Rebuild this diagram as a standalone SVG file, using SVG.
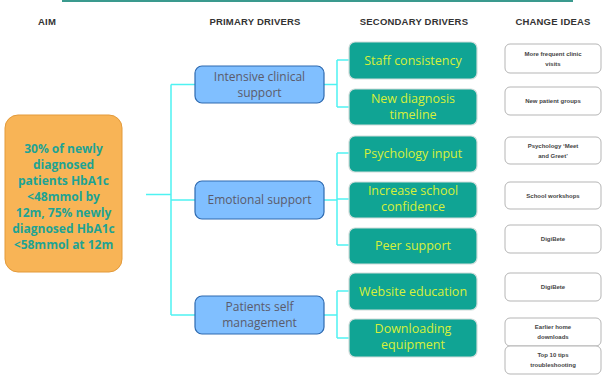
<svg xmlns="http://www.w3.org/2000/svg" width="605" height="383" viewBox="0 0 605 383">
<style>
.hdr{font-family:"Liberation Sans",Arial,sans-serif;font-size:9.5px;font-weight:bold;fill:#333;text-anchor:middle;letter-spacing:0.2px}
.aim{fill:#f8b456;stroke:#e39a3a;stroke-width:1}
.aimt{font-family:"Open Sans","DejaVu Sans",sans-serif;font-size:12px;font-weight:bold;fill:#1ea393;text-anchor:middle}
.pri{fill:#80bfff;stroke:#2e6ab0;stroke-width:1.2}
.prit{font-family:"Open Sans","DejaVu Sans",sans-serif;font-size:12px;fill:#5b5b6b;text-anchor:middle}
.sec{fill:#10a494;stroke:#cfdcda;stroke-width:1.2}
.sect{font-family:"Open Sans","DejaVu Sans",sans-serif;font-size:12.5px;fill:#d6f03a;text-anchor:middle}
.ci{fill:#fff;stroke:#b5b5b5;stroke-width:1}
.cit{font-family:"Liberation Sans",Arial,sans-serif;font-size:6px;font-weight:bold;fill:#444;text-anchor:middle}
.con{fill:none;stroke:#4ff2f2;stroke-width:1.5}
</style>
<line x1="62" y1="1" x2="573" y2="1" stroke="#3a9a8e" stroke-width="2"/>
<g id="headers">
<text class="hdr" x="47" y="25">AIM</text>
<text class="hdr" x="255" y="25">PRIMARY  DRIVERS</text>
<text class="hdr" x="414" y="25">SECONDARY  DRIVERS</text>
<text class="hdr" x="553" y="25">CHANGE IDEAS</text>
</g>
<g id="connectors">
<path class="con" d="M146 194.5H171M171 84.5V315M171 84.5H195M171 200H195M171 315H195"/>
<path class="con" d="M324 84.5H337M337 60V107M337 60H349M337 107H349"/>
<path class="con" d="M324 200H337M337 153V245M337 153H349M337 199H349M337 245H349"/>
<path class="con" d="M324 315H337M337 291V338M337 291H349M337 338H349"/>
</g>
<g id="aim">
<rect class="aim" x="5" y="115" width="117" height="157" rx="13"/>
<text class="aimt" x="63.5" y="153">30% of newly</text>
<text class="aimt" x="63.5" y="169">diagnosed</text>
<text class="aimt" x="63.5" y="185">patients HbA1c</text>
<text class="aimt" x="63.5" y="201">&lt;48mmol by</text>
<text class="aimt" x="63.5" y="217">12m, 75% newly</text>
<text class="aimt" x="63.5" y="233">diagnosed HbA1c</text>
<text class="aimt" x="63.5" y="249">&lt;58mmol at 12m</text>
</g>
<g id="p1"><rect class="pri" x="195" y="66" width="129" height="37" rx="7"/>
<text class="prit" x="259.5" y="80.5">Intensive clinical</text><text class="prit" x="259.5" y="96.5">support</text></g>
<g id="p2"><rect class="pri" x="195" y="181" width="129" height="38" rx="7"/>
<text class="prit" x="259.5" y="204">Emotional support</text></g>
<g id="p3"><rect class="pri" x="195" y="296" width="129" height="38" rx="7"/>
<text class="prit" x="259.5" y="311">Patients self</text><text class="prit" x="259.5" y="327">management</text></g>
<g id="s1"><rect class="sec" x="349" y="42" width="128" height="37" rx="6"/>
<text class="sect" x="413" y="65">Staff consistency</text></g>
<g id="s2"><rect class="sec" x="349" y="89" width="128" height="36" rx="6"/>
<text class="sect" x="413" y="103">New diagnosis</text><text class="sect" x="413" y="119">timeline</text></g>
<g id="s3"><rect class="sec" x="349" y="136" width="128" height="36" rx="6"/>
<text class="sect" x="413" y="158">Psychology input</text></g>
<g id="s4"><rect class="sec" x="349" y="182" width="128" height="36" rx="6"/>
<text class="sect" x="413" y="195">Increase school</text><text class="sect" x="413" y="211">confidence</text></g>
<g id="s5"><rect class="sec" x="349" y="228" width="128" height="36" rx="6"/>
<text class="sect" x="413" y="250">Peer support</text></g>
<g id="s6"><rect class="sec" x="349" y="273" width="128" height="37" rx="6"/>
<text class="sect" x="413" y="296">Website education</text></g>
<g id="s7"><rect class="sec" x="349" y="319" width="128" height="38" rx="6"/>
<text class="sect" x="413" y="333">Downloading</text><text class="sect" x="413" y="349">equipment</text></g>
<g id="c1"><rect class="ci" x="505" y="44" width="96" height="29" rx="5"/>
<text class="cit" x="553" y="56">More frequent  clinic</text><text class="cit" x="553" y="66">visits</text></g>
<g id="c2"><rect class="ci" x="505" y="87" width="96" height="28" rx="5"/>
<text class="cit" x="553" y="103">New patient groups</text></g>
<g id="c3"><rect class="ci" x="505" y="137" width="96" height="27" rx="5"/>
<text class="cit" x="553" y="148">Psychology ‘Meet</text><text class="cit" x="553" y="158">and Greet’</text></g>
<g id="c4"><rect class="ci" x="505" y="182" width="96" height="27" rx="5"/>
<text class="cit" x="553" y="198">School workshops</text></g>
<g id="c5"><rect class="ci" x="505" y="225" width="96" height="28" rx="5"/>
<text class="cit" x="553" y="241">DigiBete</text></g>
<g id="c6"><rect class="ci" x="505" y="273" width="96" height="28" rx="5"/>
<text class="cit" x="553" y="289">DigiBete</text></g>
<g id="c7"><rect class="ci" x="505" y="318" width="96" height="28" rx="5"/>
<text class="cit" x="553" y="329">Earlier  home</text><text class="cit" x="553" y="339">downloads</text></g>
<g id="c8"><rect class="ci" x="505" y="346" width="96" height="28" rx="5"/>
<text class="cit" x="553" y="357">Top 10 tips</text><text class="cit" x="553" y="367">troubleshooting</text></g>
</svg>
